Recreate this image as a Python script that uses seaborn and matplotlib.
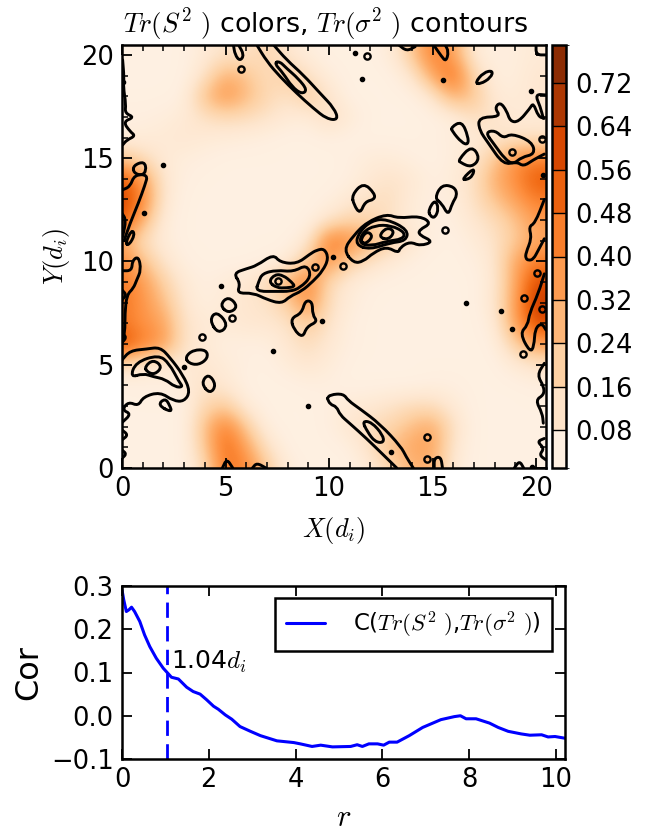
import numpy as np
import pandas as pd
import matplotlib
matplotlib.use('Agg')
import matplotlib.pyplot as plt
from matplotlib.colors import BoundaryNorm, ListedColormap, Normalize
from matplotlib.cm import ScalarMappable
from matplotlib.patches import PathPatch
from matplotlib.path import Path
import seaborn as sns

# Tr(S^2) field, rows from y=20 down to y=0, columns x=0..20
row_20 = [.04,.04,.04,.04,.08,.12,.12,.18,.10,.06,.04,.04,.04,.07,.22,.44,.34,.08,.05,.06,.08]
row_19 = [.04,.04,.04,.04,.12,.30,.24,.14,.22,.13,.06,.04,.04,.04,.10,.32,.50,.17,.06,.06,.10]
row_18 = [.04,.04,.04,.05,.25,.38,.27,.17,.12,.22,.11,.04,.04,.04,.04,.10,.30,.24,.08,.07,.10]
row_17 = [.05,.05,.06,.08,.13,.16,.15,.12,.08,.07,.15,.08,.04,.04,.04,.04,.06,.14,.12,.08,.08]
row_16 = [.06,.07,.08,.10,.08,.07,.06,.05,.04,.04,.05,.04,.04,.04,.04,.05,.06,.08,.10,.12,.12]
row_15 = [.22,.15,.08,.06,.05,.04,.04,.04,.04,.04,.04,.05,.07,.07,.05,.04,.06,.10,.22,.38,.42]
row_14 = [.54,.36,.10,.05,.04,.04,.04,.04,.04,.04,.04,.05,.09,.12,.09,.05,.07,.13,.30,.40,.54]
row_13 = [.62,.42,.10,.04,.04,.04,.04,.04,.04,.04,.05,.09,.13,.14,.07,.05,.06,.13,.24,.34,.44]
row_12 = [.56,.30,.07,.04,.04,.04,.04,.04,.04,.04,.11,.18,.18,.12,.07,.05,.05,.10,.15,.24,.36]
row_11 = [.32,.14,.07,.04,.04,.04,.04,.04,.04,.09,.46,.40,.28,.20,.10,.05,.04,.07,.12,.22,.32]
row_10 = [.42,.26,.11,.05,.04,.04,.04,.05,.07,.24,.38,.20,.13,.08,.05,.04,.04,.05,.10,.32,.44]
row_09 = [.46,.36,.20,.08,.05,.07,.10,.15,.30,.42,.16,.08,.05,.04,.04,.04,.04,.04,.09,.32,.58]
row_08 = [.46,.38,.26,.10,.05,.08,.10,.12,.20,.40,.14,.07,.04,.04,.04,.04,.04,.04,.10,.34,.65]
row_07 = [.46,.38,.34,.12,.08,.08,.10,.10,.12,.22,.12,.05,.04,.04,.04,.04,.04,.04,.07,.34,.58]
row_06 = [.58,.44,.36,.12,.08,.05,.05,.05,.10,.15,.09,.05,.04,.04,.04,.04,.04,.04,.05,.20,.34]
row_05 = [.15,.10,.08,.08,.10,.07,.05,.04,.07,.10,.07,.04,.04,.04,.04,.04,.04,.04,.04,.08,.12]
row_04 = [.04,.05,.05,.07,.12,.09,.04,.04,.04,.05,.05,.04,.04,.04,.04,.05,.05,.04,.04,.04,.05]
row_03 = [.04,.04,.04,.04,.17,.22,.07,.04,.04,.04,.05,.08,.09,.12,.15,.15,.08,.04,.04,.04,.04]
row_02 = [.04,.04,.04,.04,.25,.45,.22,.05,.04,.04,.05,.10,.15,.18,.26,.32,.13,.04,.04,.04,.04]
row_01 = [.04,.04,.04,.04,.22,.50,.34,.13,.04,.04,.04,.05,.13,.26,.32,.34,.10,.04,.04,.04,.04]
row_00 = [.04,.04,.04,.04,.15,.46,.42,.22,.07,.04,.04,.04,.08,.17,.28,.30,.08,.04,.04,.04,.04]

cbar_levels = [.01,.08,.16,.24,.32,.40,.48,.56,.64,.72,.79]
cbar_ticks = [.08,.16,.24,.32,.40,.48,.56,.64,.72]

# Tr(sigma^2) contour traces, (x, y)
c_top_diag = [(6.5,20.5),(7.0,19.68),(7.63,18.95),(8.44,18.14),(9.24,17.42),(9.89,16.9),(10.45,16.85),(10.25,17.42),(9.57,18.14),(8.76,19.03),(7.95,19.76),(7.31,20.5)]
c_top_diag_in = [(7.35,19.6),(7.79,19.11),(8.2,18.47),(8.68,18.1),(8.95,18.3),(8.52,18.85),(7.95,19.35),(7.6,19.7),(7.35,19.6)]
c_top_small = [(5.38,20.5),(5.46,20.0),(5.7,19.7),(5.9,20.0),(5.62,20.5)]
c_left_edge = [(.03,19.76),(.1,18.9),(.06,18.47),(.19,17.6),(.14,17.18),(.6,16.98),(.05,16.77),(.39,16.29),(.65,16.08),(.23,15.88),(.03,15.64)]
c_left_big = [(.0,13.46),(.39,13.62),(.6,14.2),(1.25,14.2),(1.11,13.7),(.79,12.82),(.39,11.85),(.1,11.0)]
c_left_loop = [(.55,14.65),(1.08,14.85),(1.18,14.4),(.95,14.15),(.55,14.3),(.55,14.65)]
c_left_small = [(.15,10.85),(.47,11.55),(.62,11.3),(.35,10.8),(.15,10.85)]
c_left_in = [(.0,12.33),(.2,12.01),(.03,11.2)]
c_top_a = [(13.35,20.5),(13.75,20.18),(14.16,20.4)]
c_top_b = [(15.04,20.5),(15.44,19.92),(15.65,19.68),(15.78,20.16),(15.6,20.5)]
c_r_blob = [(17.05,18.65),(17.46,19.15),(17.92,19.25),(17.82,18.9),(17.3,18.58),(17.05,18.65)]
c_r_outer = [(20.4,16.93),(20.11,17.01),(19.87,17.68),(19.71,17.42),(19.15,16.75),(18.75,16.78),(18.58,17.3),(18.26,17.72),(18.0,17.42),(18.3,17.01),(17.22,16.98),(17.25,16.37),(17.7,15.72),(18.42,14.68),(19.07,14.83),(19.39,14.6),(19.87,14.92),(20.4,15.2)]
c_r_inner = [(17.55,16.25),(18.02,16.35),(18.42,15.96),(18.82,16.2),(19.8,15.8),(19.95,15.2),(19.3,15.05),(18.9,14.7),(18.5,14.95),(17.94,15.72),(17.55,16.25)]
c_r_b1 = [(15.9,16.5),(16.41,16.8),(16.72,16.05),(16.72,15.65),(16.41,15.75),(15.95,16.3),(15.9,16.5)]
c_r_b2 = [(16.25,14.92),(16.89,15.62),(17.3,15.0),(16.89,14.55),(16.35,14.78),(16.25,14.92)]
c_r_b3 = [(16.42,13.98),(17.02,14.55),(16.95,14.15),(16.65,13.95),(16.42,13.98)]
c_corner = [(20.0,20.5),(20.0,20.0),(20.5,20.0)]
c_r_squig = [(20.5,18.06),(19.95,18.1),(20.2,17.5),(20.35,16.93)]
c_mid_b1 = [(11.1,13.22),(11.66,13.82),(12.2,13.3),(12.2,13.0),(11.74,12.9),(11.5,12.3),(11.2,12.74),(11.1,13.22)]
c_mid_b2 = [(15.1,13.06),(15.44,13.72),(16.05,13.62),(16.2,13.22),(15.95,12.82),(15.76,12.22),(15.44,12.82),(15.1,13.06)]
c_mid_b3 = [(14.8,12.49),(15.12,13.0),(15.3,12.57),(15.12,12.1),(14.88,12.2),(14.8,12.49)]
c_mid_outer = [(10.7,10.56),(11.18,11.25),(11.82,11.9),(12.78,12.3),(13.35,12.09),(14.4,12.2),(14.95,11.85),(14.35,11.53),(14.35,11.28),(15.05,10.96),(14.4,10.75),(13.91,10.96),(13.43,10.68),(13.35,10.4),(12.78,10.72),(12.14,10.42),(11.66,10.0),(11.18,9.92),(10.7,10.56)]
c_mid_a = [(11.28,10.8),(11.45,11.42),(12.06,11.98),(12.78,12.06),(13.82,11.53),(13.72,11.0),(12.95,10.9),(11.98,10.58),(11.28,10.8)]
c_mid_b = [(11.45,10.87),(11.62,11.42),(12.22,11.75),(13.0,11.75),(13.68,11.4),(13.55,11.08),(12.78,10.98),(12.06,10.75),(11.45,10.87)]
c_mid_r1 = [(11.5,11.02),(11.82,11.48),(12.14,11.22),(11.74,10.82),(11.5,11.02)]
c_mid_r2 = [(12.38,11.2),(12.78,11.66),(13.18,11.46),(12.87,11.04),(12.38,11.2)]
c_r_lower = [(20.4,13.0),(19.95,11.85),(19.65,11.69),(19.79,11.12),(19.5,10.4),(19.5,10.15),(19.63,10.05),(19.87,10.1),(20.11,10.55),(20.4,11.1)]
c_l_low = [(.0,9.55),(.47,9.55),(.5,10.05),(.8,10.25),(.92,9.59),(.71,9.1),(.55,8.7),(.23,8.38),(.14,7.49),(.14,6.52),(.0,6.2)]
c_l_in1 = [(.0,8.62),(.22,8.38),(.0,8.14)]
c_l_in2 = [(.0,6.52),(.22,6.33),(.0,6.07)]
c_ctr_outer = [(5.38,9.43),(6.02,9.65),(6.51,9.8),(7.31,10.35),(7.63,9.96),(8.44,9.88),(9.08,10.36),(9.4,10.55),(9.78,10.62),(9.98,10.15),(9.7,9.55),(9.24,9.05),(8.68,8.56),(8.12,8.32),(7.71,7.95),(6.99,8.16),(6.34,8.48),(5.55,8.45),(5.72,8.94),(5.38,9.43)]
c_ctr_mid = [(6.6,9.02),(6.78,9.42),(7.47,9.58),(8.28,9.5),(8.92,9.85),(9.15,9.27),(8.6,8.72),(8.12,8.55),(7.47,8.55),(6.45,8.55),(6.6,9.02)]
c_ctr_in = [(7.08,9.02),(7.39,9.38),(7.79,9.33),(8.2,9.0),(8.36,8.78),(7.95,8.72),(7.47,8.72),(7.08,9.02)]
c_chain_1 = [(4.72,7.89),(5.14,8.32),(5.62,7.81),(5.14,7.48),(4.72,7.89)]
c_chain_2 = [(4.22,7.17),(4.57,7.6),(5.15,6.92),(4.65,6.48),(4.22,7.17)]
c_chain_3 = [(3.06,5.39),(3.45,5.72),(4.08,5.72),(4.15,5.31),(3.69,4.98),(3.2,5.08),(3.06,5.39)]
c_chain_4 = [(3.82,4.1),(4.17,4.58),(4.56,4.02),(4.25,3.58),(3.82,4.1)]
c_ctr_low = [(8.15,7.25),(8.68,7.49),(8.85,8.12),(9.2,8.05),(9.2,7.41),(9.45,7.09),(8.92,6.84),(8.73,6.3),(8.3,6.7),(8.15,7.25)]
c_ll_outer = [(.0,5.23),(.39,5.68),(1.19,5.76),(1.84,5.85),(2.32,5.35),(2.95,4.5),(3.3,3.7),(3.0,3.22),(2.48,3.25),(1.84,3.68),(1.03,3.45),(.79,3.0),(.31,3.21),(.0,2.81),(.45,2.62),(.0,2.2)]
c_ll_mid = [(.4,4.38),(.66,5.12),(1.76,5.48),(2.28,5.07),(2.75,4.18),(2.95,3.92),(2.56,3.92),(2.08,4.3),(1.51,4.42),(1.03,4.58),(.4,4.38)]
c_ll_in = [(1.1,4.91),(1.51,5.25),(1.95,4.91),(1.59,4.52),(1.2,4.65),(1.1,4.91)]
c_ll_low = [(1.72,3.05),(2.08,3.38),(2.3,3.05),(2.42,2.68),(1.72,3.05)]
c_edge_1 = [(.0,1.84),(.3,1.6),(.0,1.36)]
c_edge_2 = [(.0,.87),(.22,.68),(.0,.47)]
c_bot_1 = [(4.85,0),(5.06,.45),(5.35,0)]
c_bot_2 = [(6.3,0),(6.51,.25),(6.95,0)]
c_low_diag = [(9.92,3.37),(10.05,3.08),(10.37,2.97),(10.53,2.57),(11.0,2.16),(11.8,1.44),(12.71,.55),(13.27,0)]
c_low_diag2 = [(14.07,0),(13.72,.55),(13.48,1.03),(12.46,2.13),(11.5,2.86),(10.93,3.26),(10.69,3.6),(10.05,3.55),(9.92,3.37)]
c_low_in = [(11.6,2.28),(12.06,2.22),(12.6,1.6),(12.65,1.22),(12.22,1.26),(11.85,1.76),(11.6,2.28)]
c_bot_3 = [(15.08,0),(15.08,.48),(15.4,.55),(15.48,0)]
c_bot_4 = [(18.95,0),(19.2,.35),(19.4,0)]
c_r_big = [(20.4,9.4),(20.11,8.46),(19.68,7.49),(19.6,6.92),(19.22,6.52),(19.71,5.6),(19.9,5.88),(19.95,6.75),(20.27,7.02),(20.48,6.68)]
c_r_edge = [(20.4,5.07),(20.05,4.5),(20.38,3.94),(20.38,3.54),(19.97,3.29),(20.3,2.65),(20.35,2.17)]
c_r_edge2 = [(20.4,1.43),(20.05,1.28),(20.4,.95),(20.15,.63),(20.48,.39)]

contour_traces = [c_top_diag, c_top_diag_in, c_top_small, c_left_edge, c_left_big, c_left_loop, c_left_small, c_left_in,
                  c_top_a, c_top_b, c_r_blob, c_r_outer, c_r_inner, c_r_b1, c_r_b2, c_r_b3, c_corner, c_r_squig,
                  c_mid_b1, c_mid_b2, c_mid_b3, c_mid_outer, c_mid_a, c_mid_b, c_mid_r1, c_mid_r2, c_r_lower,
                  c_l_low, c_l_in1, c_l_in2, c_ctr_outer, c_ctr_mid, c_ctr_in, c_chain_1, c_chain_2, c_chain_3,
                  c_chain_4, c_ctr_low, c_ll_outer, c_ll_mid, c_ll_in, c_ll_low, c_edge_1, c_edge_2, c_bot_1,
                  c_bot_2, c_low_diag, c_low_diag2, c_low_in, c_bot_3, c_bot_4, c_r_big, c_r_edge, c_r_edge2]

ring_x = [5.75,11.85,18.86,20.27,15.6,7.55,9.32,10.69,5.33,3.88,14.72,14.75,20.03,19.44,20.27,19.39]
ring_y = [19.32,19.97,15.32,15.93,11.53,9.07,9.75,9.78,7.25,6.33,1.49,.42,9.43,8.22,7.68,5.52]
dot_x = [1.96,1.08,.06,11.26,11.61,15.52,19.76,10.21,4.78,9.68,7.28,9.0,3.0,12.99,16.6,18.29,18.86,19.79,20.35]
dot_y = [14.67,12.37,18.7,20.08,18.85,18.79,18.26,10.23,8.83,7.1,5.67,3.02,4.87,.79,8.01,7.62,6.75,.05,14.2]

# correlation curve
r_vals = [0,.04,.1,.16,.22,.29,.41,.52,.64,.79,.95,1.14,1.3,1.49,1.64,1.8,1.95,2.11,2.22,2.38,2.53,2.72,2.96,3.19,3.57,3.96,4.11,4.38,4.58,4.85,5.27,5.42,5.54,5.69,5.89,6.03,6.16,6.34,6.62,6.93,7.35,7.66,7.8,7.93,8.16,8.47,8.67,8.9,9.2,9.4,9.67,9.82,9.98,10.21]
cor_vals = [.291,.268,.241,.245,.251,.241,.218,.187,.16,.133,.11,.089,.085,.066,.056,.05,.037,.022,.015,.002,-.008,-.025,-.036,-.046,-.058,-.062,-.065,-.071,-.068,-.072,-.071,-.067,-.071,-.065,-.065,-.068,-.061,-.061,-.046,-.027,-.009,-.002,0,-.007,-.007,-.017,-.027,-.036,-.042,-.045,-.044,-.049,-.048,-.052]
corr_length = 1.04


def smooth_path(trace):
    # quadratic curve with the read points as control points
    pts = np.array(trace, dtype=float)
    closed = np.allclose(pts[0], pts[-1])
    if closed:
        pts = pts[:-1]
        mids = (pts + np.roll(pts, -1, axis=0)) / 2
        verts = [mids[-1]]
        codes = [Path.MOVETO]
        for p, m in zip(pts, mids):
            verts += [p, m]
            codes += [Path.CURVE3, Path.CURVE3]
    else:
        mids = (pts[:-1] + pts[1:]) / 2
        verts = [pts[0], mids[0]]
        codes = [Path.MOVETO, Path.LINETO]
        for p, m in zip(pts[1:-1], mids[1:]):
            verts += [p, m]
            codes += [Path.CURVE3, Path.CURVE3]
        verts.append(pts[-1])
        codes.append(Path.LINETO)
    return Path(verts, codes)


def main():
    sns.set_style("white")
    plt.rcParams['font.family'] = ['DejaVu Sans']
    plt.rcParams['mathtext.fontset'] = 'cm'
    plt.rcParams['axes.linewidth'] = 1.8
    plt.rcParams['text.color'] = 'k'
    plt.rcParams['axes.labelcolor'] = 'k'
    plt.rcParams['xtick.color'] = 'k'
    plt.rcParams['ytick.color'] = 'k'
    plt.rcParams['axes.edgecolor'] = 'k'

    W, H = 647, 831
    fig = plt.figure(figsize=(W / 100, H / 100), dpi=100)
    ax = fig.add_axes([122 / W, 1 - 468 / H, 424 / W, 423 / H])
    cax = fig.add_axes([552 / W, 1 - 468 / H, 14 / W, 423 / H])
    ax2 = fig.add_axes([122 / W, 1 - 759 / H, 443 / W, 173 / H])

    field = np.array([row_20, row_19, row_18, row_17, row_16, row_15, row_14, row_13, row_12, row_11, row_10,
                      row_09, row_08, row_07, row_06, row_05, row_04, row_03, row_02, row_01, row_00])
    cmap = sns.color_palette("Oranges", as_cmap=True)
    norm = Normalize(.01, .79)
    ax.imshow(field, cmap=cmap, norm=norm, extent=(-.5, 20.5, -.5, 20.5), interpolation='bicubic', aspect='auto')
    for trace in contour_traces:
        ax.add_patch(PathPatch(smooth_path(trace), fc='none', ec='k', lw=2.1, capstyle='round', joinstyle='round'))
    ax.plot(ring_x, ring_y, ls='none', marker='o', ms=4.5, mfc='none', mec='k', mew=1.7)
    ax.plot(dot_x, dot_y, ls='none', marker='o', ms=3, color='k')
    ax.set_xlim(0, 20.48)
    ax.set_ylim(0, 20.48)
    ax.set_xticks(range(0, 21, 5))
    ax.set_yticks(range(0, 21, 5))
    ax.set_xticks(range(0, 21), minor=True)
    ax.set_yticks(range(0, 21), minor=True)
    ax.tick_params(which='major', direction='in', top=True, right=True, bottom=True, left=True,
                   length=7, width=1.3, labelsize=18.5, pad=6)
    ax.tick_params(which='minor', direction='in', top=True, right=True, bottom=True, left=True,
                   length=4, width=1.1)
    ax.set_title(r'$Tr(S^2\ )$ colors, $Tr(\sigma^2\ )$ contours', fontsize=19.4, pad=9, x=.48)
    ax.set_xlabel(r'$X(d_i)$', fontsize=19, labelpad=9)
    ax.set_ylabel(r'$Y(d_i)$', fontsize=19, labelpad=6)

    band_mids = [(a + b) / 2 for a, b in zip(cbar_levels[:-1], cbar_levels[1:])]
    band_cmap = ListedColormap([cmap(norm(m)) for m in band_mids])
    sm = ScalarMappable(norm=BoundaryNorm(cbar_levels, len(band_mids)), cmap=band_cmap)
    cbar = fig.colorbar(sm, cax=cax, ticks=cbar_ticks, drawedges=True, spacing='proportional')
    cbar.ax.tick_params(length=0, labelsize=18.5, pad=7)
    cbar.ax.set_yticklabels([f'{t:.2f}' for t in cbar_ticks])
    cbar.outline.set_linewidth(1.8)
    cbar.dividers.set_linewidth(1.0)

    df = pd.DataFrame({'r': r_vals, 'cor': cor_vals})
    sns.lineplot(data=df, x='r', y='cor', ax=ax2, color='b', lw=2.2, errorbar=None,
                 label=r'C($Tr(S^2\ )$,$Tr(\sigma^2\ )$)')
    ax2.axvline(corr_length, color='b', lw=2, ls=(0, (5.5, 3)))
    ax2.text(corr_length + .1, .108, r'1.04$d_i$', fontsize=18, va='baseline')
    ax2.set_xlim(0, 10.21)
    ax2.set_ylim(-.1, .3)
    ax2.set_xticks([0, 2, 4, 6, 8, 10])
    ax2.set_yticks([-.1, 0, .1, .2, .3])
    ax2.set_yticklabels(['\u22120.1', '0.0', '0.1', '0.2', '0.3'])
    ax2.tick_params(direction='in', top=True, right=True, bottom=True, left=True, length=7, width=1.3,
                    labelsize=18.5, pad=6)
    ax2.set_xlabel(r'$r$', fontsize=22, labelpad=7)
    ax2.set_ylabel('Cor', fontsize=23, labelpad=5)
    leg = ax2.legend(loc='upper right', bbox_to_anchor=(552 / W, 1 - 598 / H), bbox_transform=fig.transFigure,
                     fontsize=16.5, fancybox=False, framealpha=1, edgecolor='k', borderaxespad=0,
                     handlelength=1.7, handletextpad=1.2, borderpad=.5)
    leg.get_frame().set_linewidth(1.8)

    fig.savefig('out.png', dpi=100)
    plt.close(fig)


if __name__ == "__main__":
    main()
